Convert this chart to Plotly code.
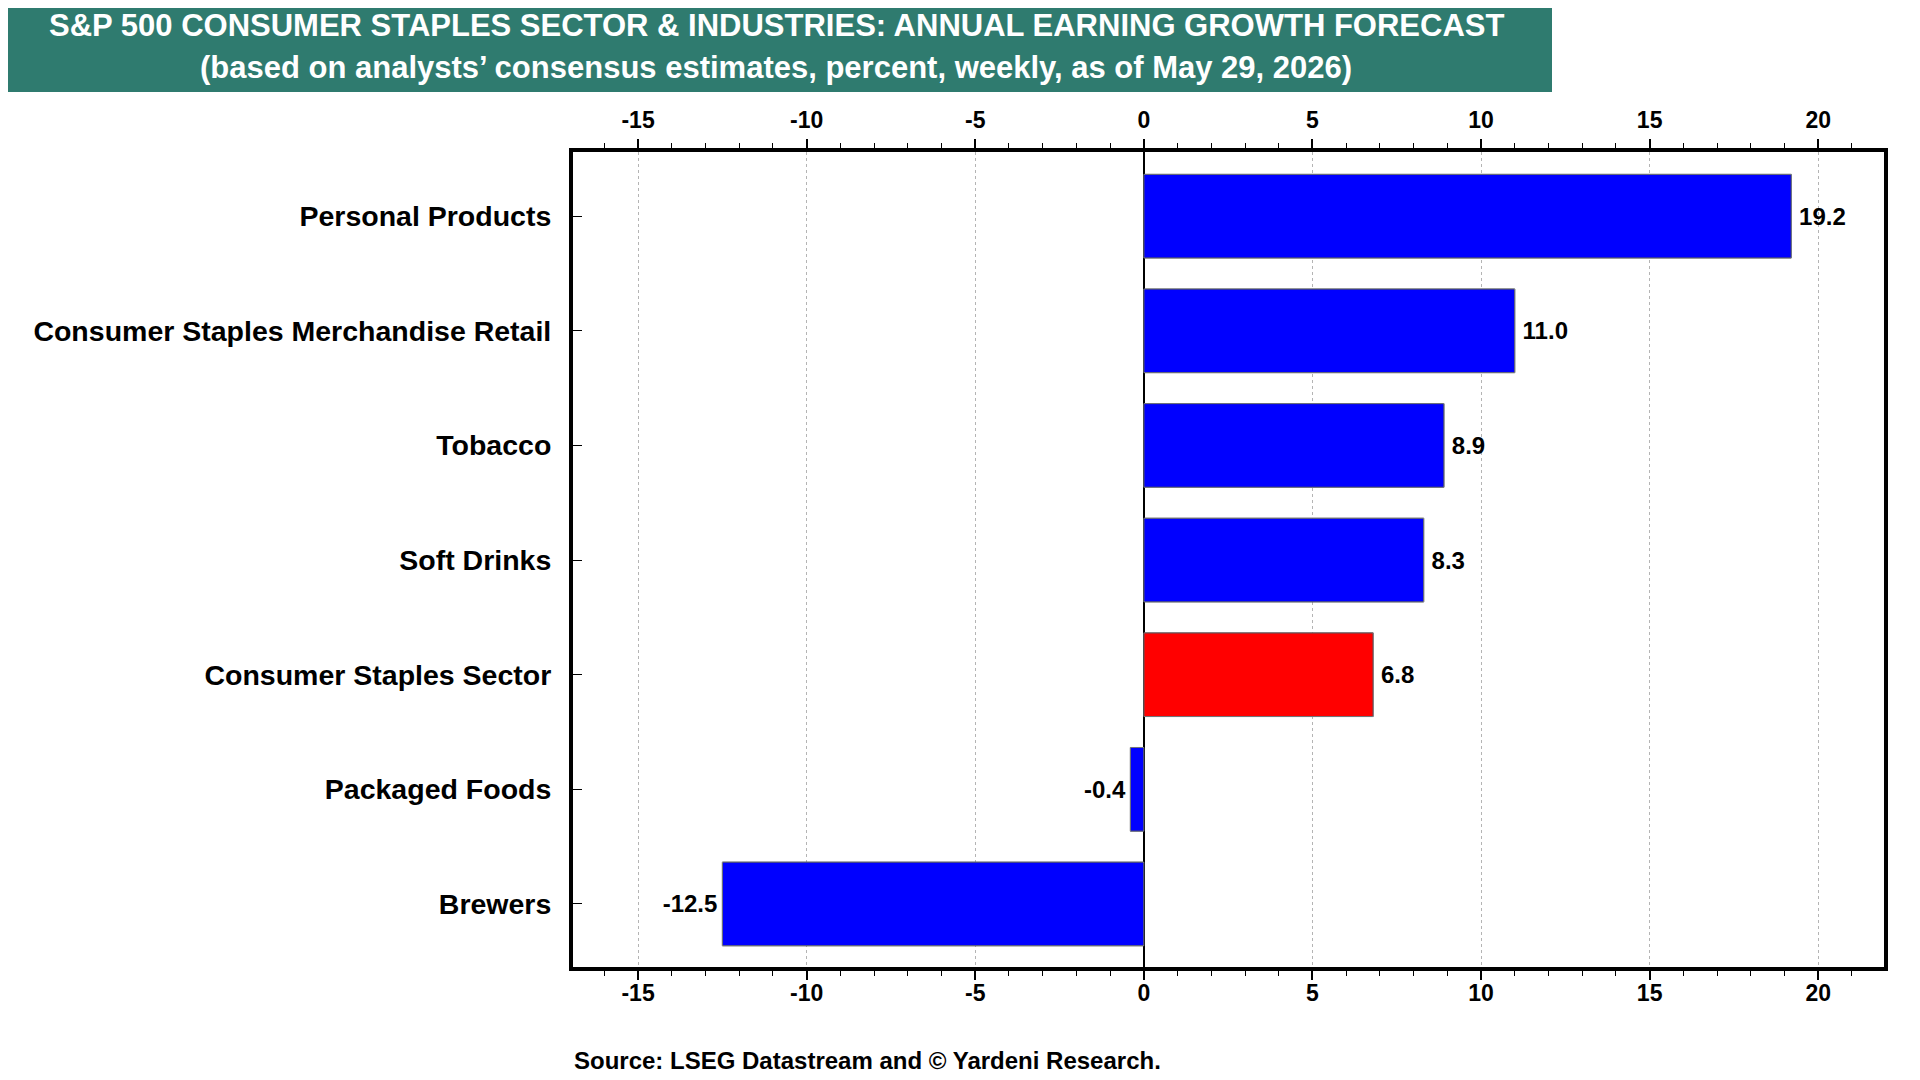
import plotly.graph_objects as go

# Data
categories = [
    "Personal Products",
    "Consumer Staples Merchandise Retail",
    "Tobacco",
    "Soft Drinks",
    "Consumer Staples Sector",
    "Packaged Foods",
    "Brewers",
]
growth = [19.2, 11.0, 8.9, 8.3, 6.8, -0.4, -12.5]
highlight = "Consumer Staples Sector"
x_ticks = [-15, -10, -5, 0, 5, 10, 15, 20]

title_line1 = "S&P 500 CONSUMER STAPLES SECTOR & INDUSTRIES: ANNUAL EARNING GROWTH FORECAST"
title_line2 = "(based on analysts\u2019 consensus estimates, percent, weekly, as of May 29, 2026)"
source_text = "Source: LSEG Datastream and \u00a9 Yardeni Research."

FONT = "Arial, Liberation Sans, sans-serif"
BANNER = "#2F7B6F"

# figure pixel layout (page puts the figure 8px in from the corner)
W, H = 1920, 1080
L, R, T, B = 565, 44, 144, 121
pw, ph = W - L - R, H - T - B


def fx(x):
    # figure pixel -> paper coordinate
    return (x - L) / pw


def fy(y):
    return (H - B - y) / ph


colors = ["#FF0000" if c == highlight else "#0000FF" for c in categories]
labels = [f"\u2009{v:.1f}" if v >= 0 else f"{v:.1f}\u200a" for v in growth]
tick_text = [str(t) for t in x_ticks]

fig = go.Figure()

fig.add_trace(go.Bar(
    x=growth,
    y=categories,
    orientation="h",
    marker=dict(color=colors, line=dict(color="black", width=1)),
    width=0.73,
    text=labels,
    textposition="outside",
    textfont=dict(family=FONT, size=24, color="black", weight="bold"),
    cliponaxis=False,
    showlegend=False,
    hoverinfo="skip",
))

# invisible copy so the top axis gets drawn
fig.add_trace(go.Bar(
    x=growth,
    y=categories,
    orientation="h",
    xaxis="x2",
    marker=dict(color="rgba(0,0,0,0)"),
    width=0.73,
    showlegend=False,
    hoverinfo="skip",
))

axis_common = dict(
    range=[-16.93, 21.95],
    tickvals=x_ticks,
    ticktext=tick_text,
    ticks="outside",
    ticklen=9,
    tickwidth=1.5,
    tickcolor="black",
    minor=dict(dtick=1, ticks="outside", ticklen=5, tickwidth=1, tickcolor="black", showgrid=False),
    tickfont=dict(family=FONT, size=23, color="black", weight="bold"),
    showline=True,
    linecolor="black",
    linewidth=4,
)

fig.update_layout(
    width=W,
    height=H,
    margin=dict(l=L, r=R, t=T, b=B),
    paper_bgcolor="white",
    plot_bgcolor="white",
    barmode="overlay",
    xaxis=dict(
        **axis_common,
        side="bottom",
        mirror=True,
        ticklabelstandoff=-7,
        showgrid=True,
        gridcolor="#B4B4B4",
        griddash="dot",
        gridwidth=1,
        zeroline=True,
        zerolinecolor="black",
        zerolinewidth=1.5,
    ),
    xaxis2=dict(
        **axis_common,
        side="top",
        overlaying="x",
        matches="x",
        ticklabelstandoff=2,
        showgrid=False,
        zeroline=False,
    ),
    yaxis=dict(
        categoryorder="array",
        categoryarray=categories,
        range=[6.55, -0.56],
        ticks="inside",
        ticklen=9,
        tickwidth=1,
        tickcolor="black",
        tickfont=dict(family=FONT, size=28.5, color="black", weight="bold"),
        ticklabelstandoff=12,
        showline=True,
        linecolor="black",
        linewidth=4,
        mirror=True,
        showgrid=False,
        zeroline=False,
    ),
)

# title banner
fig.add_shape(
    type="rect", xref="paper", yref="paper",
    x0=fx(-8), x1=fx(1544), y0=fy(84), y1=fy(-8),
    fillcolor=BANNER, line=dict(width=0), layer="below",
)
for text, yc in [(title_line1, 17), (title_line2, 60)]:
    fig.add_annotation(
        text=text, xref="paper", yref="paper",
        x=fx(768), y=fy(yc), xanchor="center", yanchor="middle",
        showarrow=False,
        font=dict(family=FONT, size=31, color="white", weight="bold"),
    )

fig.add_annotation(
    text=source_text, xref="paper", yref="paper",
    x=fx(564), y=fy(1052), xanchor="left", yanchor="middle",
    showarrow=False,
    font=dict(family=FONT, size=24, color="black", weight="bold"),
)

fig.write_html("out.html")
